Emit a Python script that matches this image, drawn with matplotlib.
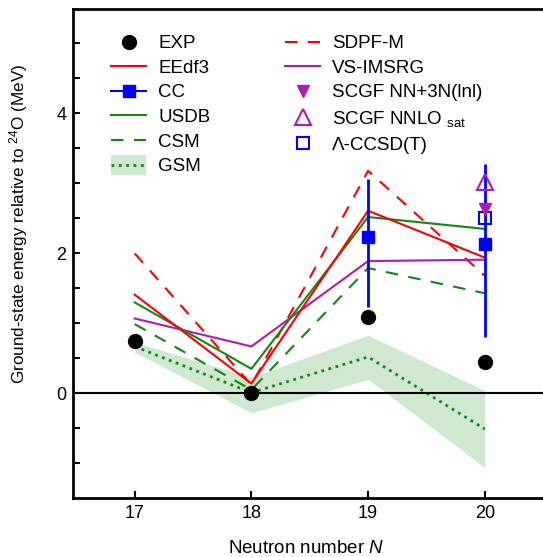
import numpy as np
import matplotlib
matplotlib.use("Agg")
import matplotlib.pyplot as plt
from matplotlib.lines import Line2D
from matplotlib.patches import Patch, Rectangle
from matplotlib.legend_handler import HandlerPatch

plt.rcParams['font.family'] = ['Liberation Sans', 'DejaVu Sans']
plt.rcParams['mathtext.fontset'] = 'custom'
plt.rcParams['mathtext.rm'] = 'Liberation Sans'
plt.rcParams['mathtext.it'] = 'Liberation Sans:italic'

# data
N = [17, 18, 19, 20]
exp = [0.75, 0.0, 1.09, 0.45]
eedf3 = [1.41, 0.14, 2.61, 1.94]
usdb = [1.30, 0.35, 2.52, 2.35]
csm = [0.99, 0.05, 1.79, 1.43]
sdpfm = [2.00, 0.12, 3.18, 1.68]
vsimsrg = [1.07, 0.67, 1.89, 1.91]
gsm = [0.67, 0.01, 0.52, -0.51]
gsm_hi = [0.73, 0.23, 0.83, 0.04]
gsm_lo = [0.59, -0.28, 0.20, -1.06]

cc_N = [19, 20]
cc = [2.23, 2.14]
cc_err_lo = [1.00, 1.33]
cc_err_hi = [0.84, 1.14]

scgf_nn3n = 2.63
scgf_nnlosat = 3.02
lccsdt = 2.50

green = '#118811'
band = '#cfe8cf'
purple = '#b01ab8'

fig = plt.figure(figsize=(5.43, 5.57), dpi=100)
# axes box runs past the right edge of the figure, so no right spine is seen
ax = fig.add_axes([73.3/543, 1 - 498.3/557, 494/543, 489.8/557])

ax.fill_between(N, gsm_lo, gsm_hi, color=band, lw=0)
ax.plot(N, gsm, ':', color=green, lw=2)
ax.axhline(0, color='k', lw=1.5)
ax.plot(N, sdpfm, '--', color='red', lw=1.5, dashes=(6, 5))
ax.plot(N, csm, '--', color=green, lw=1.5, dashes=(6, 5))
ax.plot(N, vsimsrg, '-', color=purple, lw=1.5)
ax.plot(N, usdb, '-', color=green, lw=1.5)
ax.plot(N, eedf3, '-', color='red', lw=1.5)
ax.errorbar(cc_N, cc, yerr=[cc_err_lo, cc_err_hi], fmt='s', color='blue',
            ms=9, elinewidth=2, capsize=0)
ax.plot([20], [scgf_nnlosat], '^', mfc='none', mec=purple, ms=11, mew=1.5)
ax.plot([20], [lccsdt], 's', mfc='none', mec='blue', ms=9, mew=1.5)
ax.plot([20], [scgf_nn3n], 'v', color=purple, ms=9)
ax.plot(N, exp, 'o', color='k', ms=10)

ax.set_xlim(16.474, 16.474 + 494 / 116.7)
ax.set_ylim(-1.5, 5.5)
ax.set_xticks(N)
ax.set_yticks([0, 2, 4])
ax.set_yticks(np.arange(-1.0, 5.5, 0.5), minor=True)
ax.tick_params(direction='in', length=5, width=1.5, labelsize=13, pad=5)
ax.tick_params(which='minor', direction='in', length=5, width=1.5)
ax.spines['right'].set_visible(False)
for s in ['left', 'bottom', 'top']:
    ax.spines[s].set_linewidth(2)
ax.set_xlabel('Neutron number $\\it{N}$', fontsize=13.5)
ax.xaxis.set_label_coords(0.5 * (543 - 73.3) / 494 - 0.005, -0.085)
ax.set_ylabel('Ground-state energy relative to $^{24}$O (MeV)', fontsize=12.3)
ax.yaxis.set_label_coords(-0.088, 0.56)


def tall_patch(legend, orig_handle, xdescent, ydescent, width, height, fontsize):
    return Rectangle((-xdescent, -ydescent - 0.25 * height), width, height * 1.5)


h_exp = Line2D([], [], ls='none', marker='o', color='k', ms=10)
h_eedf3 = Line2D([], [], color='red', lw=1.5)
h_cc = Line2D([], [], color='blue', lw=1.5, marker='s', ms=9)
h_usdb = Line2D([], [], color=green, lw=1.5)
h_csm = Line2D([], [], color=green, lw=1.5, ls='--', dashes=(6, 5))
gsm_patch = Patch(color=band, lw=0)
h_gsm = (gsm_patch, Line2D([], [], color=green, lw=2, ls=':'))
h_sdpfm = Line2D([], [], color='red', lw=1.5, ls='--', dashes=(6, 5))
h_vs = Line2D([], [], color=purple, lw=1.5)
h_nn3n = Line2D([], [], ls='none', marker='v', color=purple, ms=9)
h_sat = Line2D([], [], ls='none', marker='^', mfc='none', mec=purple, ms=11, mew=1.5)
h_lcc = Line2D([], [], ls='none', marker='s', mfc='none', mec='blue', ms=9, mew=1.5)

handles = [h_exp, h_eedf3, h_cc, h_usdb, h_csm, h_gsm,
           h_sdpfm, h_vs, h_nn3n, h_sat, h_lcc]
labels = ['EXP', 'EEdf3', 'CC', 'USDB', 'CSM', 'GSM',
          'SDPF-M', 'VS-IMSRG', 'SCGF NN+3N(lnl)', 'SCGF NNLO $_{\\rm sat}$',
          '\u039b-CCSD(T)']
ax.legend(handles, labels, ncol=2, frameon=False, fontsize=13.5,
          loc='upper left', bbox_to_anchor=(111/543, 1 - 35/557),
          bbox_transform=fig.transFigure, handlelength=1.87,
          labelspacing=0.40, columnspacing=4.0, handletextpad=0.64,
          borderpad=0, borderaxespad=0,
          handler_map={Patch: HandlerPatch(patch_func=tall_patch)})

fig.savefig('out.png', dpi=100)
